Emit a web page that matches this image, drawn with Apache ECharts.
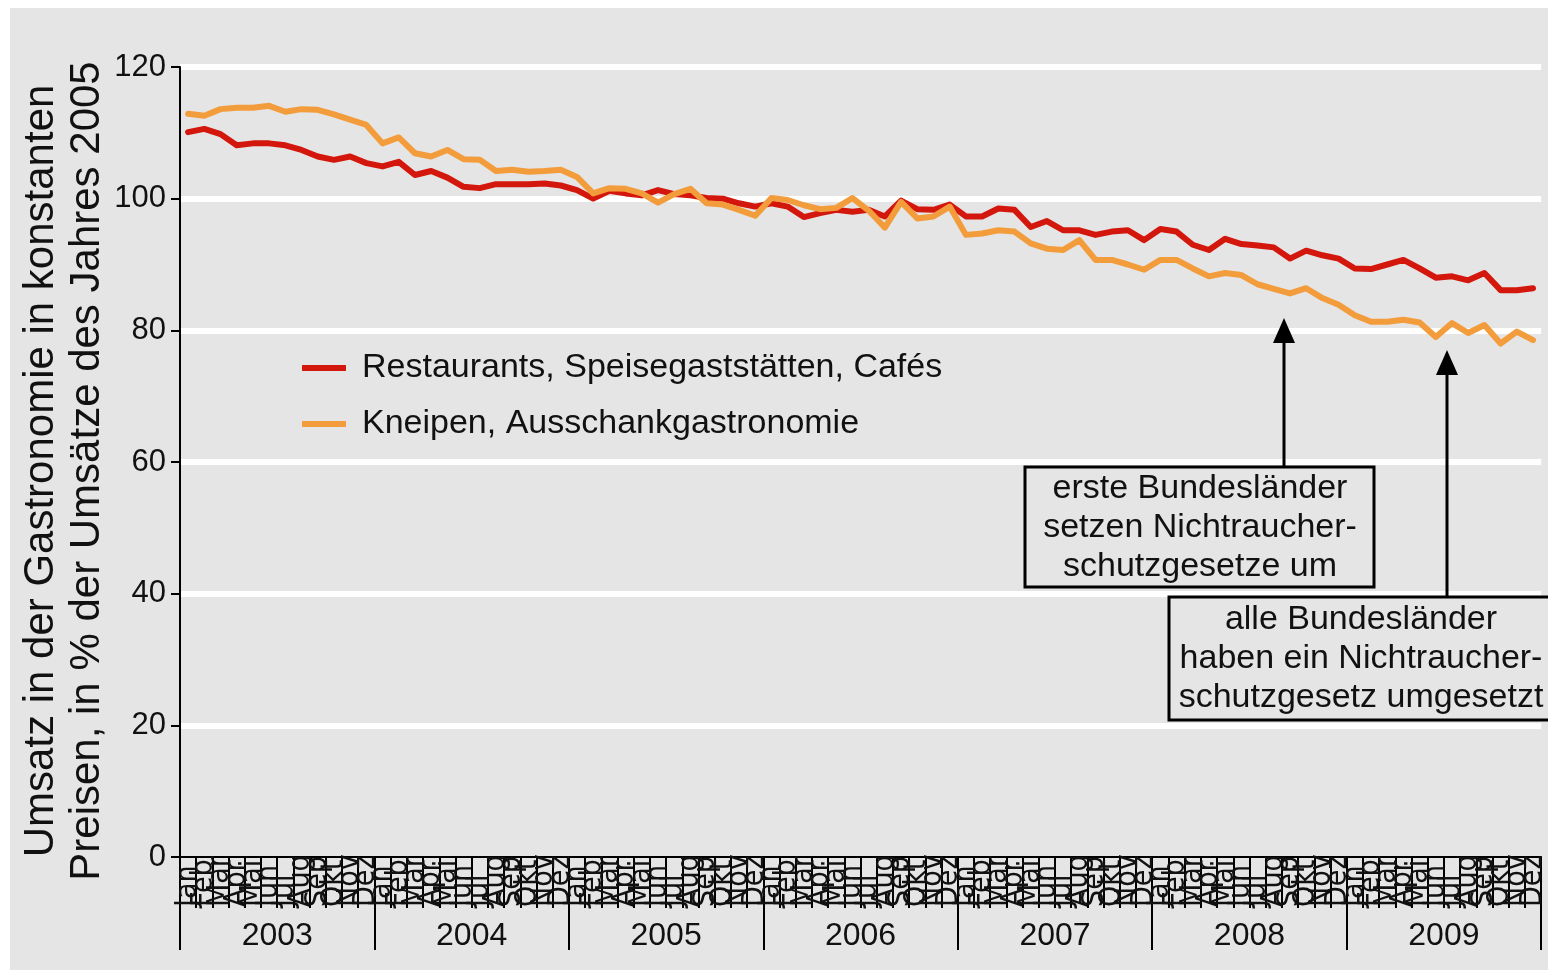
<!DOCTYPE html>
<html>
<head>
<meta charset="utf-8">
<script src="https://cdn.jsdelivr.net/npm/echarts@6/dist/echarts.min.js"></script>
<style>
html,body{margin:0;padding:0;background:#fff;}
#c{width:1548px;height:970px;background:#e5e5e5;box-shadow:inset 10px 8px 0 0 #fff;}
</style>
</head>
<body>
<div id="c"></div>
<script>
// ---- data ----
const monthNames = ['Jan','Feb','Mar','Apr','Mai','Jun','Jul','Aug','Sep','Okt','Nov','Dez'];
const yearLabels = ['2003','2004','2005','2006','2007','2008','2009'];
const yTicks = [0, 20, 40, 60, 80, 100, 120];
const seriesNames = ['Restaurants, Speisegaststätten, Cafés', 'Kneipen, Ausschankgastronomie'];
const restaurants = [
  110.1,110.6,109.8,108.1,108.4,108.4,108.1,107.4,106.4,105.9,106.4,105.4,
  104.9,105.6,103.6,104.2,103.2,101.8,101.6,102.2,102.2,102.2,102.3,102.0,
  101.3,100.0,101.2,100.8,100.5,101.3,100.7,100.5,100.1,100.0,99.3,98.8,
  99.3,98.8,97.2,97.8,98.3,98.0,98.3,97.3,99.7,98.4,98.3,99.1,
  97.3,97.3,98.5,98.3,95.7,96.6,95.2,95.2,94.5,95.0,95.2,93.7,
  95.4,95.0,93.0,92.2,93.9,93.1,92.9,92.6,90.9,92.1,91.4,90.9,
  89.4,89.3,90.0,90.7,89.4,88.0,88.2,87.6,88.7,86.1,86.1,86.4
];
const kneipen = [
  112.9,112.6,113.6,113.8,113.8,114.1,113.2,113.6,113.5,112.8,112.0,111.2,
  108.4,109.3,106.9,106.4,107.4,106.0,105.9,104.2,104.4,104.1,104.2,104.4,
  103.3,100.8,101.6,101.5,100.8,99.4,100.7,101.5,99.3,99.1,98.3,97.4,
  100.1,99.8,99.0,98.4,98.6,100.1,98.2,95.6,99.5,97.0,97.3,98.8,
  94.5,94.7,95.2,95.0,93.2,92.4,92.2,93.7,90.7,90.7,90.0,89.2,
  90.7,90.7,89.4,88.2,88.7,88.4,87.0,86.3,85.6,86.4,84.9,83.9,
  82.3,81.3,81.3,81.6,81.2,79.0,81.1,79.6,80.8,78.0,79.8,78.5
];
const yTitleLines = ['Umsatz in der Gastronomie in konstanten', 'Preisen, in % der Umsätze des Jahres 2005'];
const note1 = ['erste Bundesländer', 'setzen Nichtraucher-', 'schutzgesetze um'];
const note2 = ['alle Bundesländer', 'haben ein Nichtraucher-', 'schutzgesetz umgesetzt'];

const categories = [];
yearLabels.forEach(y => monthNames.forEach(m => categories.push(m + ' ' + y)));

const FONT = "'Liberation Sans', Arial, Helvetica, sans-serif";
const NARROW = "'Liberation Sans Narrow', 'DejaVu Sans Condensed', 'Liberation Sans', sans-serif";

const chart = echarts.init(document.getElementById('c'), null, {renderer: 'canvas'});

const option = {
  backgroundColor: 'transparent',
  animation: false,
  textStyle: {fontFamily: FONT, color: '#111'},
  grid: {left: 180, right: 3, top: 67, bottom: 113, containLabel: false},
  legend: {
    orient: 'vertical',
    left: 302,
    top: 351,
    padding: 0,
    itemGap: 22,
    itemWidth: 44,
    itemHeight: 6,
    icon: 'rect',
    textStyle: {fontSize: 34, fontFamily: FONT, color: '#111', padding: [0, 0, 0, 11]},
    data: seriesNames
  },
  xAxis: [
    {
      type: 'category',
      data: categories,
      position: 'bottom',
      boundaryGap: true,
      axisLine: {show: true, onZero: false, lineStyle: {color: '#000', width: 2}},
      axisTick: {show: true, interval: 0, length: 51, lineStyle: {color: '#000', width: 2}},
      axisLabel: {
        interval: 0, rotate: 90, margin: 50, align: 'left',
        fontSize: 30, fontFamily: NARROW, color: '#111',
        formatter: v => v.split(' ')[0]
      },
      splitLine: {show: false}
    },
    {
      type: 'category',
      data: yearLabels,
      position: 'bottom',
      boundaryGap: true,
      axisLine: {show: false},
      axisTick: {show: true, interval: 0, length: 93, lineStyle: {color: '#000', width: 2}},
      axisLabel: {interval: 0, margin: 63, fontSize: 32, fontFamily: FONT, color: '#111'},
      splitLine: {show: false}
    }
  ],
  yAxis: {
    type: 'value',
    min: yTicks[0],
    max: yTicks[yTicks.length - 1],
    interval: 20,
    axisLine: {show: true, lineStyle: {color: '#000', width: 2}},
    axisTick: {show: true, length: 9, lineStyle: {color: '#000', width: 2}},
    axisLabel: {margin: 14, fontSize: 31, fontFamily: FONT, color: '#111'},
    splitLine: {show: true, showMinLine: false, lineStyle: {color: '#ffffff', width: 6}}
  },
  series: [
    {
      name: seriesNames[0], type: 'line', data: restaurants, xAxisIndex: 0,
      showSymbol: false, symbol: 'none',
      lineStyle: {color: '#d4170c', width: 6, join: 'round', cap: 'round'},
      itemStyle: {color: '#d4170c'}, z: 3
    },
    {
      name: seriesNames[1], type: 'line', data: kneipen, xAxisIndex: 0,
      showSymbol: false, symbol: 'none',
      lineStyle: {color: '#f39c3c', width: 6, join: 'round', cap: 'round'},
      itemStyle: {color: '#f39c3c'}, z: 4
    }
  ],
  graphic: [
    {
      type: 'text', x: 41, y: 471, rotation: Math.PI / 2,
      style: {text: yTitleLines[0], fontSize: 42, fontFamily: FONT, fill: '#111', align: 'center', verticalAlign: 'middle'}
    },
    {
      type: 'text', x: 87, y: 471, rotation: Math.PI / 2,
      style: {text: yTitleLines[1], fontSize: 42, fontFamily: FONT, fill: '#111', align: 'center', verticalAlign: 'middle'}
    },
    // arrow 1
    {type: 'line', shape: {x1: 1284, y1: 467, x2: 1284, y2: 338}, style: {stroke: '#000', lineWidth: 3}, z: 10},
    {type: 'polygon', shape: {points: [[1284, 318], [1273, 343], [1295, 343]]}, style: {fill: '#000'}, z: 10},
    // arrow 2
    {type: 'line', shape: {x1: 1447, y1: 597, x2: 1447, y2: 370}, style: {stroke: '#000', lineWidth: 3}, z: 10},
    {type: 'polygon', shape: {points: [[1447, 350], [1436, 375], [1458, 375]]}, style: {fill: '#000'}, z: 10},
    // box 1
    {type: 'rect', shape: {x: 1025, y: 467, width: 349, height: 120}, style: {fill: '#e5e5e5', stroke: '#000', lineWidth: 3}, z: 10},
    {type: 'text', x: 1200, y: 528, z: 11,
      style: {text: note1.join('\n'), fontSize: 34, lineHeight: 39, fontFamily: FONT, fill: '#111', align: 'center', verticalAlign: 'middle'}},
    // box 2
    {type: 'rect', shape: {x: 1169, y: 597, width: 390, height: 123}, style: {fill: '#e5e5e5', stroke: '#000', lineWidth: 3}, z: 10},
    {type: 'text', x: 1361, y: 659, z: 11,
      style: {text: note2.join('\n'), fontSize: 34, lineHeight: 39, fontFamily: FONT, fill: '#111', align: 'center', verticalAlign: 'middle'}}
  ]
};
chart.setOption(option);
</script>
</body>
</html>
